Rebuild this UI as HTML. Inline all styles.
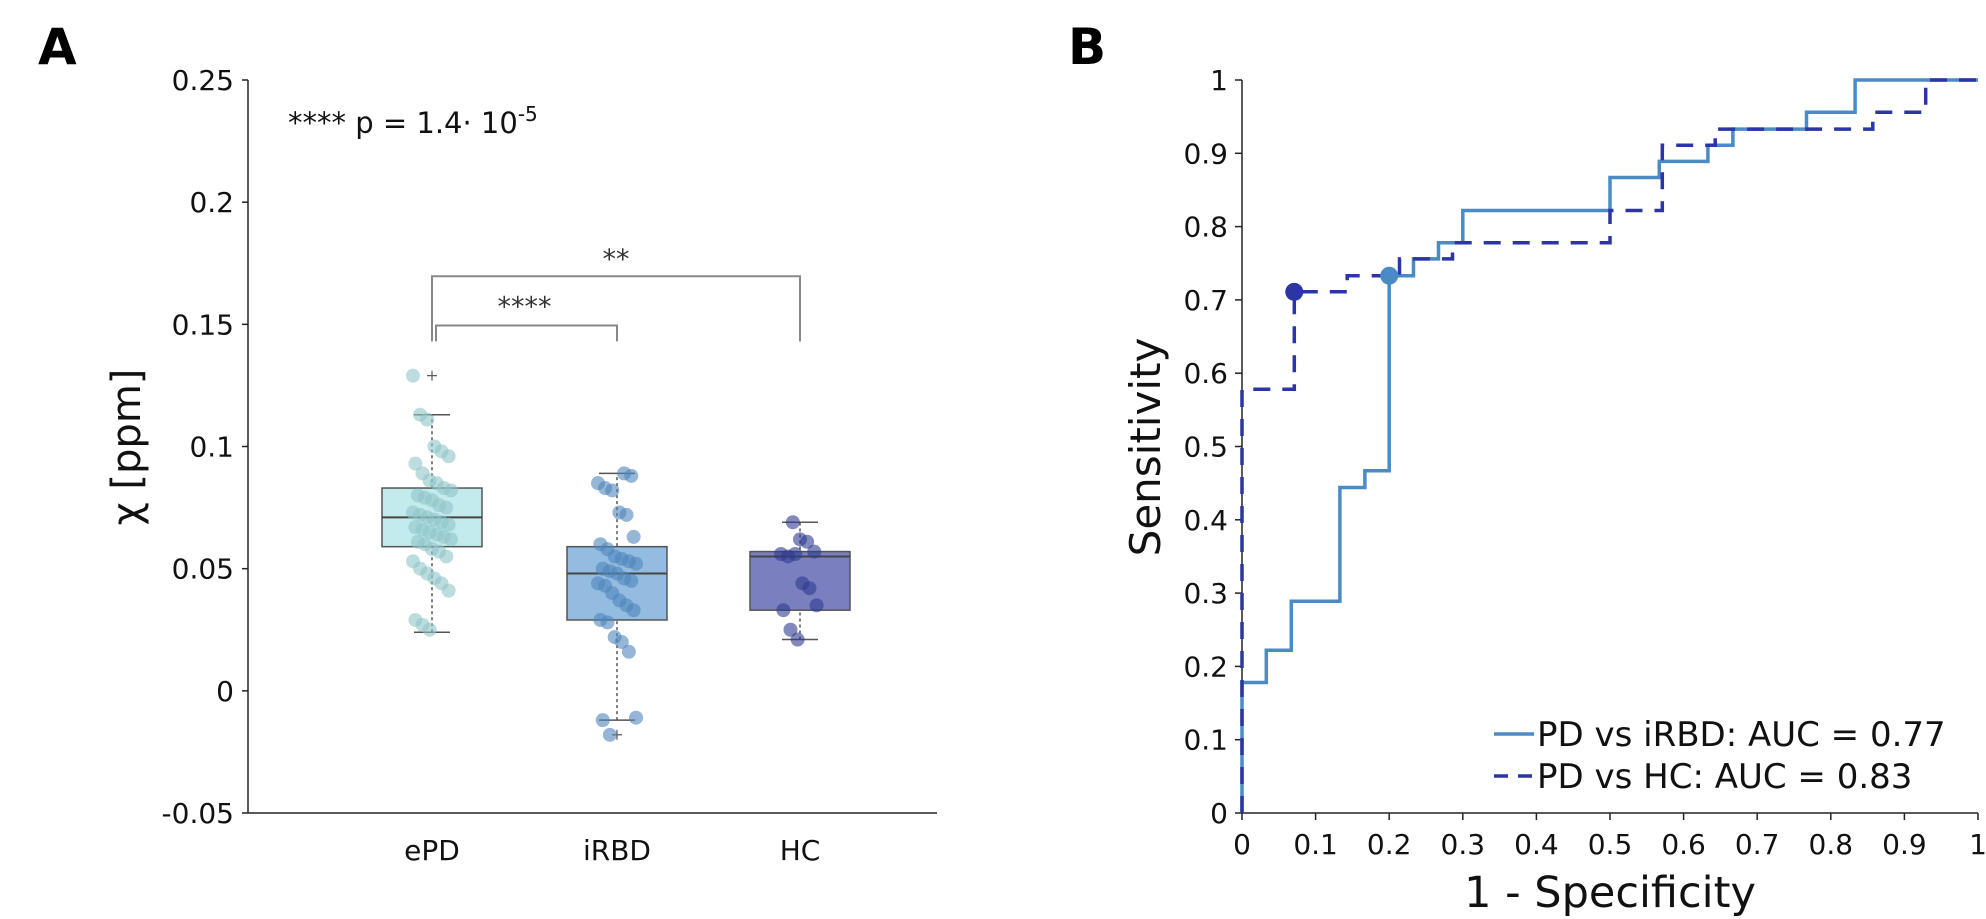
<!DOCTYPE html>
<html><head><meta charset="utf-8"><style>
html,body{margin:0;padding:0;background:#fff;}
svg{display:block;font-family:"DejaVu Sans","Liberation Sans",sans-serif;}
</style></head><body>
<svg id="fig" width="1986" height="919" viewBox="0 0 1986 919" xmlns="http://www.w3.org/2000/svg"></svg>
<script>
// ---------- Panel A data ----------
const categories = ["ePD","iRBD","HC"];
const ePDValues = [0.129,0.113,0.111,0.100,0.098,0.096,0.093,0.089,0.086,0.085,0.083,0.082,0.080,0.079,0.078,0.076,0.075,0.073,0.072,0.071,0.070,0.069,0.068,0.067,0.066,0.065,0.064,0.063,0.062,0.061,0.060,0.058,0.057,0.055,0.053,0.050,0.048,0.046,0.044,0.041,0.029,0.027,0.025];
const iRBDValues = [0.089,0.088,0.085,0.083,0.082,0.073,0.072,0.063,0.060,0.058,0.055,0.054,0.053,0.052,0.050,0.049,0.048,0.046,0.045,0.044,0.043,0.040,0.037,0.035,0.033,0.029,0.028,0.022,0.020,0.016,-0.011,-0.012,-0.018];
const HCValues = [0.069,0.062,0.061,0.057,0.056,0.055,0.056,0.044,0.042,0.035,0.033,0.025,0.021];
// box stats: [whiskerLow, q1, median, q3, whiskerHigh]
const boxStats = [[0.024,0.059,0.071,0.083,0.113],[-0.012,0.029,0.048,0.059,0.089],[0.021,0.033,0.055,0.057,0.069]];
const outliers = [[0.129],[-0.018],[]];
const yTicksA = [-0.05,0,0.05,0.1,0.15,0.2,0.25];
const yTickLabelsA = ["-0.05","0","0.05","0.1","0.15","0.2","0.25"];
// ---------- Panel B data ----------
const rocIRBD_fpr = [0,0,0.033,0.033,0.067,0.067,0.133,0.133,0.167,0.167,0.2,0.2,0.233,0.233,0.267,0.267,0.3,0.3,0.5,0.5,0.567,0.567,0.633,0.633,0.667,0.667,0.767,0.767,0.833,0.833,1];
const rocIRBD_tpr = [0,0.178,0.178,0.222,0.222,0.289,0.289,0.444,0.444,0.467,0.467,0.733,0.733,0.756,0.756,0.778,0.778,0.822,0.822,0.867,0.867,0.889,0.889,0.911,0.911,0.933,0.933,0.956,0.956,1,1];
const rocHC_fpr = [0,0,0.071,0.071,0.143,0.143,0.214,0.214,0.286,0.286,0.5,0.5,0.571,0.571,0.643,0.643,0.857,0.857,0.929,0.929,1];
const rocHC_tpr = [0,0.578,0.578,0.711,0.711,0.733,0.733,0.756,0.756,0.778,0.778,0.822,0.822,0.911,0.911,0.933,0.933,0.956,0.956,1,1];
const optPointIRBD = [0.2,0.733];
const optPointHC = [0.071,0.711];
const xTicksB = [0,0.1,0.2,0.3,0.4,0.5,0.6,0.7,0.8,0.9,1];
const xTickLabelsB = ["0","0.1","0.2","0.3","0.4","0.5","0.6","0.7","0.8","0.9","1"];
const yTicksB = [0,0.1,0.2,0.3,0.4,0.5,0.6,0.7,0.8,0.9,1];
const yTickLabelsB = ["0","0.1","0.2","0.3","0.4","0.5","0.6","0.7","0.8","0.9","1"];

const NS="http://www.w3.org/2000/svg";
const svg=document.getElementById('fig');
function mk(tag,attrs,parent){const e=document.createElementNS(NS,tag);for(const k in attrs)e.setAttribute(k,attrs[k]);(parent||svg).appendChild(e);return e;}
function txt(s,attrs,parent){const e=mk('text',attrs,parent);e.textContent=s;return e;}

const AX0=248, AX1=937, AY0=813, AY1=80;
const yA=v=>AY0-(v+0.05)/0.3*(AY0-AY1);
const catX=[432,617,800];
const BX0=1242, BX1=1978, BY0=813, BY1=80;
const xB=f=>BX0+f*(BX1-BX0);
const yB=t=>BY0-t*(BY0-BY1);

// ---------- Panel A ----------
const gA=mk('g',{});


let t=txt('A',{x:38,y:64,'font-size':50,'font-weight':'bold'},gA);

let l=mk('line',{x1:AX0,y1:AY1,x2:AX0,y2:AY0,stroke:'#222','stroke-width':1.5},gA);

l=mk('line',{x1:AX0,y1:AY0,x2:AX1,y2:AY0,stroke:'#222','stroke-width':1.5},gA);

yTicksA.forEach((v,i)=>{
  const tk=mk('line',{x1:AX0-6,y1:yA(v),x2:AX0,y2:yA(v),stroke:'#222','stroke-width':1.5},gA);
  
  const lb=txt(yTickLabelsA[i],{x:AX0-14,y:yA(v)+10,'font-size':28,'text-anchor':'end',fill:'#111'},gA);
  
});
categories.forEach((c,i)=>{
  const lb=txt(c,{x:catX[i],y:860,'font-size':28,'text-anchor':'middle',fill:'#111'},gA);
  
});
t=txt('χ [ppm]',{x:0,y:0,'font-size':40,'text-anchor':'middle',transform:'translate(140,447) rotate(-90)',fill:'#111'},gA);

t=mk('text',{x:288,y:133,'font-size':29,fill:'#111'},gA);
t.innerHTML='**** p = 1.4· 10<tspan dy="-12" font-size="20">-5</tspan>';


const boxFill=['#c3ebee','#94bce0','#7a7fbf'];
const ptFill=['#8fc4c8','#4f86bb','#2f3a8f'];
const series=[ePDValues,iRBDValues,HCValues];
const BW=100;
categories.forEach((c,i)=>{
  const s=boxStats[i], cx=catX[i];
  const g=mk('g',{},gA);
  
  mk('line',{x1:cx,y1:yA(s[0]),x2:cx,y2:yA(s[4]),stroke:'#555','stroke-width':1.5,'stroke-dasharray':'3,3'},g);
  mk('line',{x1:cx-18,y1:yA(s[0]),x2:cx+18,y2:yA(s[0]),stroke:'#555','stroke-width':1.5},g);
  mk('line',{x1:cx-18,y1:yA(s[4]),x2:cx+18,y2:yA(s[4]),stroke:'#555','stroke-width':1.5},g);
  mk('rect',{x:cx-BW/2,y:yA(s[3]),width:BW,height:yA(s[1])-yA(s[3]),fill:boxFill[i],stroke:'#555','stroke-width':1.5},g);
  mk('line',{x1:cx-BW/2,y1:yA(s[2]),x2:cx+BW/2,y2:yA(s[2]),stroke:'#444','stroke-width':2},g);
  outliers[i].forEach(o=>{
    mk('line',{x1:cx-5,y1:yA(o),x2:cx+5,y2:yA(o),stroke:'#555','stroke-width':1.2},g);
    mk('line',{x1:cx,y1:yA(o)-5,x2:cx,y2:yA(o)+5,stroke:'#555','stroke-width':1.2},g);
  });
  series[i].forEach((v,j)=>{
    const jit=(((j*37+i*11)%17)/16-0.5)*38;
    const p=mk('circle',{cx:cx+jit,cy:yA(v),r:7,fill:ptFill[i],'fill-opacity':0.6},g);
    
    
  });
});
let br=mk('path',{d:`M${catX[0]+4},${yA(0.143)} V${yA(0.1495)} H${catX[1]} V${yA(0.143)}`,fill:'none',stroke:'#888','stroke-width':2},gA);

t=txt('****',{x:(catX[0]+catX[1])/2,y:yA(0.1495)-10,'font-size':27,'text-anchor':'middle',fill:'#333'},gA);

br=mk('path',{d:`M${catX[0]},${yA(0.143)} V${yA(0.1697)} H${catX[2]} V${yA(0.143)}`,fill:'none',stroke:'#888','stroke-width':2},gA);

t=txt('**',{x:(catX[0]+catX[2])/2,y:yA(0.1697)-8,'font-size':27,'text-anchor':'middle',fill:'#333'},gA);


// ---------- Panel B ----------
const gB=mk('g',{});


t=txt('B',{x:1068,y:64,'font-size':50,'font-weight':'bold'},gB);

l=mk('line',{x1:BX0,y1:BY1,x2:BX0,y2:BY0,stroke:'#222','stroke-width':1.5},gB);

l=mk('line',{x1:BX0,y1:BY0,x2:BX1,y2:BY0,stroke:'#222','stroke-width':1.5},gB);

yTicksB.forEach((v,i)=>{
  const tk=mk('line',{x1:BX0-7,y1:yB(v),x2:BX0,y2:yB(v),stroke:'#222','stroke-width':1.5},gB);
  
  const lb=txt(yTickLabelsB[i],{x:BX0-14,y:yB(v)+10,'font-size':28,'text-anchor':'end',fill:'#111'},gB);
  
});
xTicksB.forEach((v,i)=>{
  const tk=mk('line',{x1:xB(v),y1:BY0,x2:xB(v),y2:BY0+7,stroke:'#222','stroke-width':1.5},gB);
  
  const lb=txt(xTickLabelsB[i],{x:xB(v),y:854,'font-size':28,'text-anchor':'middle',fill:'#111'},gB);
  
});
t=txt('Sensitivity',{x:0,y:0,'font-size':42,'text-anchor':'middle',transform:'translate(1160,447) rotate(-90)',fill:'#111'},gB);

t=txt('1 - Specificity',{x:1610,y:907,'font-size':43,'text-anchor':'middle',fill:'#111'},gB);


function pathFrom(xs,ys){return xs.map((f,i)=>(i?'L':'M')+xB(f).toFixed(1)+','+yB(ys[i]).toFixed(1)).join(' ');}
let ln=mk('path',{d:pathFrom(rocIRBD_fpr,rocIRBD_tpr),fill:'none',stroke:'#4a8bc6','stroke-width':3.5},gB);

ln=mk('path',{d:pathFrom(rocHC_fpr,rocHC_tpr),fill:'none',stroke:'#2b35a3','stroke-width':3.5,'stroke-dasharray':'17,12'},gB);

let c=mk('circle',{cx:xB(optPointHC[0]),cy:yB(optPointHC[1]),r:9,fill:'#2b35a3'},gB);

c=mk('circle',{cx:xB(optPointIRBD[0]),cy:yB(optPointIRBD[1]),r:9,fill:'#4a8bc6'},gB);


const lg=mk('g',{},gB);

const le1=mk('g',{},lg);

mk('line',{x1:1494,y1:734,x2:1534,y2:734,stroke:'#4a8bc6','stroke-width':3.5},le1);
txt('PD vs iRBD: AUC = 0.77',{x:1537,y:746,'font-size':34,fill:'#111'},le1);
const le2=mk('g',{},lg);

mk('line',{x1:1494,y1:776,x2:1534,y2:776,stroke:'#2b35a3','stroke-width':3.5,'stroke-dasharray':'14,10'},le2);
txt('PD vs HC: AUC = 0.83',{x:1537,y:788,'font-size':34,fill:'#111'},le2);
</script>
</body></html>
